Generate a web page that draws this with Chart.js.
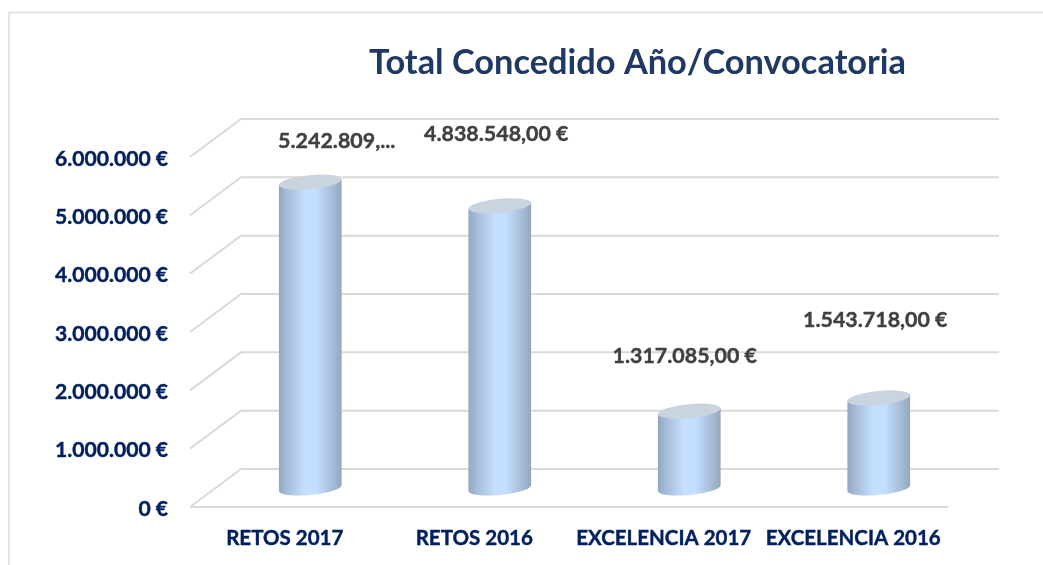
<!DOCTYPE html>
<html><head><meta charset="utf-8">
<style>html,body{margin:0;padding:0;background:#fff}canvas{display:block}</style>
<script src="https://cdn.jsdelivr.net/npm/chart.js@4"></script>
</head><body><canvas id="c" width="1043" height="565"></canvas>
<script>
const categories = ['RETOS 2017','RETOS 2016','EXCELENCIA 2017','EXCELENCIA 2016'];
const granted = [5242809, 4838548, 1317085, 1543718];
const valueLabels = ['5.242.809,...','4.838.548,00 €','1.317.085,00 €','1.543.718,00 €'];
const labelDx = [52, 22, 21, 22];
const labelDy = [-60, -91, -74, -97];
const titleText = 'Total Concedido Año/Convocatoria';
const DEPTH_X = 51, DEPTH_Y = 38;
const FONT = 'Lato, Carlito, sans-serif';

const scene = {
  id:'scene',
  afterLayout(chart){
    const t = chart.titleBlock; t.left = 369; t.right = 906;
    const y = chart.scales.y, orig = y._computeLabelItems;
    y._computeLabelItems = function(ca){
      const items = orig.call(y,ca);
      items.forEach(it=>{ it.options.translation = [it.options.translation[0], it.options.translation[1]+2]; });
      return items;
    };
  },
  beforeDraw(chart){
    const c = chart.ctx; c.save();
    c.fillStyle='#fff'; c.fillRect(0,0,chart.width,chart.height);
    c.strokeStyle='#dcdcdc'; c.lineWidth=1.5;
    c.beginPath(); c.moveTo(9,565); c.lineTo(9,12.5); c.lineTo(1043,12.5); c.stroke();
    c.restore();
  },
  beforeDatasetsDraw(chart){
    const c = chart.ctx, y = chart.scales.y, a = chart.chartArea;
    c.save(); c.strokeStyle='#d9d9d9'; c.lineWidth=2; c.lineCap='butt';
    y.ticks.forEach((tk,i)=>{
      const p = y.getPixelForTick(i);
      c.beginPath();
      c.moveTo(a.left,p); c.lineTo(a.left+DEPTH_X,p-DEPTH_Y);
      if(i>0) c.lineTo(a.right+DEPTH_X,p-DEPTH_Y);
      else { c.moveTo(a.left+DEPTH_X,p-DEPTH_Y); c.lineTo(a.right+DEPTH_X,p-DEPTH_Y); c.moveTo(a.left,p); c.lineTo(a.right,p); }
      c.stroke();
    });
    c.restore();
  },
  beforeDatasetDraw(chart,args){
    const c = chart.ctx, meta = args.meta;
    const rot = -5.5*Math.PI/180, b = 7;
    meta.data.forEach(el=>{
      const a = el.width/2+0.5;
      const cx = el.x+DEPTH_X/2, baseY = el.base-DEPTH_Y/2, topY = el.y-DEPTH_Y/2;
      const dx = a*Math.cos(rot), dy = a*Math.sin(rot);
      const g = c.createLinearGradient(cx-a,0,cx+a,0);
      g.addColorStop(0,'#93a6bf'); g.addColorStop(0.12,'#a5bad5');
      g.addColorStop(0.42,'#c5e0ff'); g.addColorStop(0.6,'#c3deff');
      g.addColorStop(0.88,'#a3b8d2'); g.addColorStop(1,'#94a6bd');
      c.save();
      c.fillStyle=g;
      c.beginPath();
      c.moveTo(cx-dx,topY-dy);
      c.lineTo(cx-dx,baseY-dy);
      c.ellipse(cx,baseY,a,b,rot,Math.PI,0,true);
      c.lineTo(cx+dx,topY+dy);
      c.closePath(); c.fill();
      c.fillStyle='#c9d4df';
      c.beginPath(); c.ellipse(cx,topY,a,b,rot,0,Math.PI*2); c.fill();
      c.restore();
    });
    return false;
  },
  afterDatasetsDraw(chart){
    const c = chart.ctx, meta = chart.getDatasetMeta(0);
    c.save(); c.fillStyle='#404040'; c.strokeStyle='#404040'; c.lineWidth=0.4; c.font='bold 21.4px '+FONT;
    c.textAlign='center'; c.textBaseline='middle';
    meta.data.forEach((el,i)=>{
      c.fillText(valueLabels[i],el.x+labelDx[i],el.y+labelDy[i]);
      c.strokeText(valueLabels[i],el.x+labelDx[i],el.y+labelDy[i]);
    });
    c.restore();
  }
};

new Chart(document.getElementById('c'),{
  type:'bar',
  data:{labels:categories,datasets:[{label:'Total Concedido',data:granted,backgroundColor:'#b5cdea',barThickness:62}]},
  plugins:[scene],
  options:{
    responsive:false,animation:false,
    layout:{padding:{left:0,right:95,top:0,bottom:0}},
    plugins:{
      legend:{display:false},tooltip:{enabled:false},
      title:{display:true,text:titleText,color:'#1f3864',align:'center',
        font:{family:FONT,size:34.4,weight:'bold'},padding:{top:42.5,bottom:73.2}}
    },
    scales:{
      x:{grid:{display:false},border:{display:false},
        afterFit(s){s.height=58;},
        ticks:{color:'#002060',font:{family:FONT,size:20.5,weight:'bold'},padding:11,maxRotation:0,autoSkip:false,
          textStrokeColor:'#002060',textStrokeWidth:0.4}},
      y:{min:0,max:6000000,grid:{display:false},border:{display:false},
        afterFit(s){s.width=190;},
        ticks:{stepSize:1000000,color:'#002060',font:{family:FONT,size:21.1,weight:'bold'},padding:14,
          textStrokeColor:'#002060',textStrokeWidth:0.4,
          callback:v=>String(v).replace(/\B(?=(\d{3})+$)/g,'.')+' €'}}
    }
  }
});
</script></body></html>
